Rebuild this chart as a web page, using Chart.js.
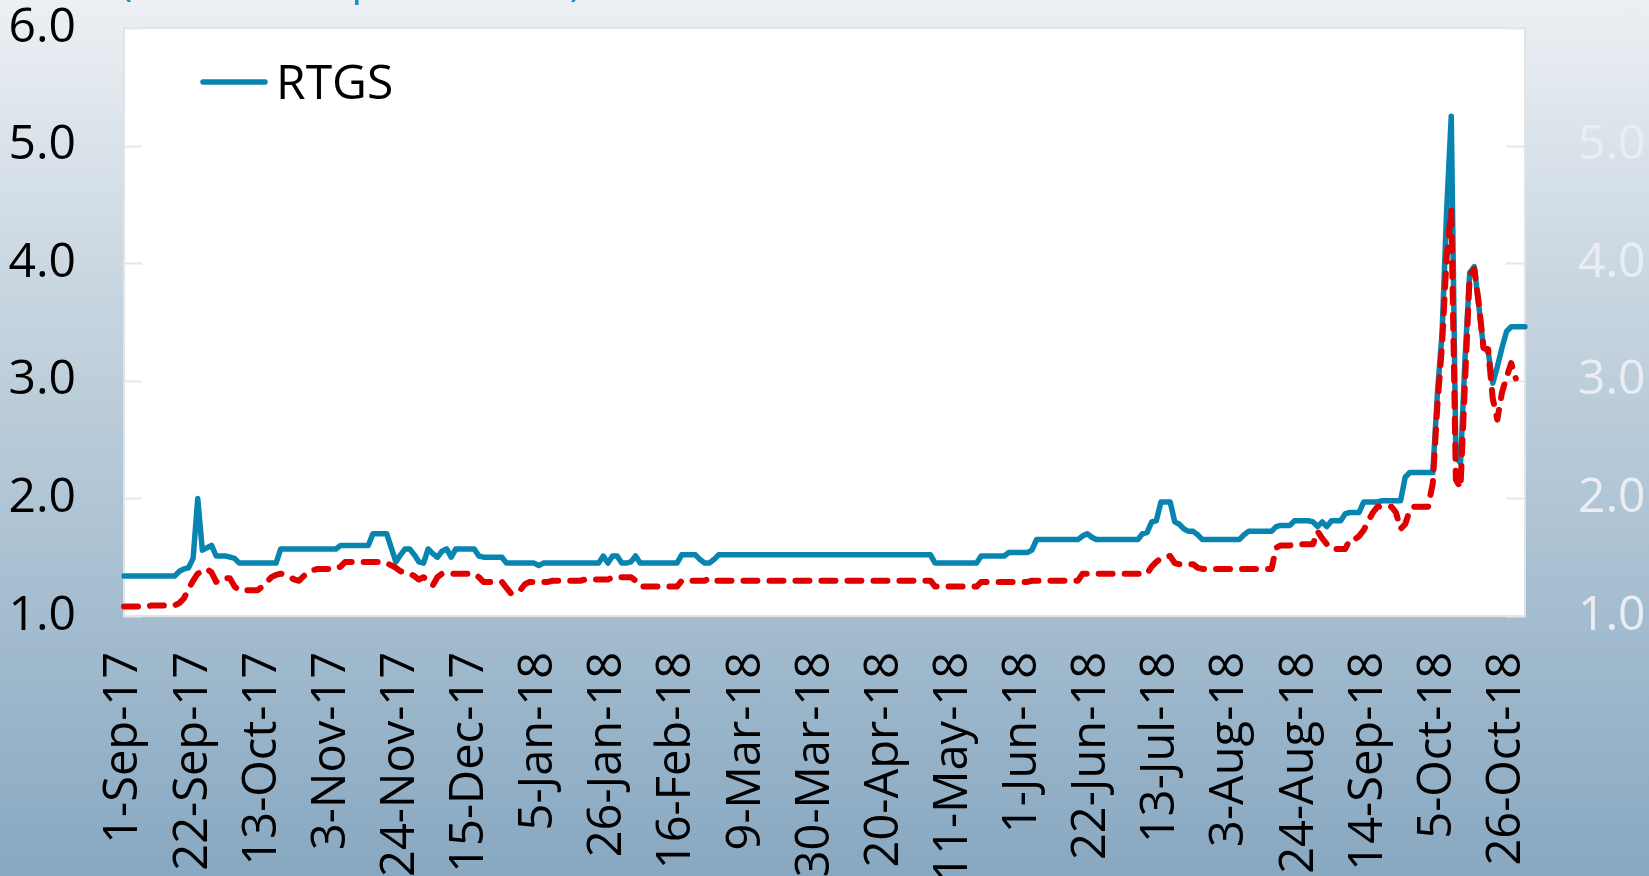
<!DOCTYPE html>
<html>
<head>
<meta charset="utf-8">
<script src="https://cdn.jsdelivr.net/npm/chart.js@4.4.1/dist/chart.umd.min.js"></script>
<style>
html,body{margin:0;padding:0;width:1649px;height:876px;overflow:hidden;
  background:linear-gradient(to bottom,#ecf0f4 0%,#c6d4df 35%,#a6bed0 68%,#88a8c1 100%);}
canvas{display:block;}
</style>
</head>
<body>
<canvas id="c" width="1649" height="876"></canvas>
<script>
// ---------- data ----------
const titleText = '(Call rate in per cent, %)';
const startDate = '2017-09-01';           // first business day shown
const tickEvery = 15;                     // one label every 3 weeks of business days
const tickLabels = ['1-Sep-17','22-Sep-17','13-Oct-17','3-Nov-17','24-Nov-17','15-Dec-17',
  '5-Jan-18','26-Jan-18','16-Feb-18','9-Mar-18','30-Mar-18','20-Apr-18','11-May-18',
  '1-Jun-18','22-Jun-18','13-Jul-18','3-Aug-18','24-Aug-18','14-Sep-18','5-Oct-18','26-Oct-18'];
const yTicks = [1, 2, 3, 4, 5, 6];

const rtgs = [
  1.34,1.34,1.34,1.34,1.34,1.34,1.34,1.34,1.34,1.34,
  1.34,1.34,1.38,1.40,1.41,1.49,2.00,1.56,1.58,1.60,
  1.51,1.51,1.51,1.50,1.49,1.45,1.45,1.45,1.45,1.45,
  1.45,1.45,1.45,1.45,1.57,1.57,1.57,1.57,1.57,1.57,
  1.57,1.57,1.57,1.57,1.57,1.57,1.57,1.60,1.60,1.60,
  1.60,1.60,1.60,1.60,1.70,1.70,1.70,1.70,1.58,1.46,
  1.52,1.57,1.57,1.52,1.46,1.45,1.57,1.53,1.50,1.55,
  1.57,1.50,1.57,1.57,1.57,1.57,1.57,1.51,1.50,1.50,
  1.50,1.50,1.50,1.45,1.45,1.45,1.45,1.45,1.45,1.45,
  1.43,1.45,1.45,1.45,1.45,1.45,1.45,1.45,1.45,1.45,
  1.45,1.45,1.45,1.45,1.51,1.45,1.51,1.51,1.45,1.45,
  1.46,1.51,1.45,1.45,1.45,1.45,1.45,1.45,1.45,1.45,
  1.45,1.52,1.52,1.52,1.52,1.48,1.45,1.45,1.48,1.52,
  1.52,1.52,1.52,1.52,1.52,1.52,1.52,1.52,1.52,1.52,
  1.52,1.52,1.52,1.52,1.52,1.52,1.52,1.52,1.52,1.52,
  1.52,1.52,1.52,1.52,1.52,1.52,1.52,1.52,1.52,1.52,
  1.52,1.52,1.52,1.52,1.52,1.52,1.52,1.52,1.52,1.52,
  1.52,1.52,1.52,1.52,1.52,1.52,1.45,1.45,1.45,1.45,
  1.45,1.45,1.45,1.45,1.45,1.45,1.51,1.51,1.51,1.51,
  1.51,1.51,1.54,1.54,1.54,1.54,1.54,1.56,1.65,1.65,
  1.65,1.65,1.65,1.65,1.65,1.65,1.65,1.65,1.68,1.70,
  1.67,1.65,1.65,1.65,1.65,1.65,1.65,1.65,1.65,1.65,
  1.65,1.70,1.71,1.80,1.81,1.97,1.97,1.97,1.80,1.78,
  1.74,1.72,1.72,1.69,1.65,1.65,1.65,1.65,1.65,1.65,
  1.65,1.65,1.65,1.69,1.72,1.72,1.72,1.72,1.72,1.72,
  1.76,1.77,1.77,1.77,1.81,1.81,1.81,1.81,1.80,1.76,
  1.80,1.76,1.81,1.81,1.81,1.87,1.88,1.88,1.88,1.97,
  1.97,1.97,1.97,1.98,1.98,1.98,1.98,1.98,2.18,2.22,
  2.22,2.22,2.22,2.22,2.22,2.90,3.40,4.45,5.25,2.35,
  2.30,3.20,3.92,3.97,3.63,3.28,3.25,2.98,3.12,3.28,
  3.42,3.46,3.46,3.46,3.46
];

const secondRate = [
  1.08,1.08,1.08,1.08,1.08,1.08,1.09,1.09,1.09,1.09,
  1.09,1.09,1.11,1.15,1.23,1.30,1.36,1.38,1.40,1.37,
  1.29,1.32,1.32,1.32,1.25,1.22,1.22,1.22,1.22,1.22,
  1.25,1.29,1.33,1.35,1.36,1.35,1.33,1.31,1.30,1.34,
  1.37,1.39,1.40,1.40,1.40,1.40,1.40,1.42,1.46,1.46,
  1.46,1.46,1.46,1.46,1.46,1.46,1.46,1.45,1.43,1.41,
  1.38,1.37,1.36,1.34,1.31,1.33,1.29,1.26,1.33,1.36,
  1.36,1.36,1.36,1.36,1.36,1.36,1.36,1.33,1.29,1.29,
  1.29,1.29,1.29,1.24,1.19,1.20,1.22,1.27,1.29,1.29,
  1.29,1.29,1.29,1.30,1.30,1.30,1.30,1.30,1.30,1.30,
  1.31,1.31,1.31,1.31,1.31,1.31,1.33,1.33,1.33,1.33,
  1.33,1.30,1.25,1.25,1.25,1.25,1.25,1.25,1.25,1.25,
  1.25,1.30,1.30,1.30,1.30,1.30,1.30,1.32,1.30,1.30,
  1.30,1.30,1.30,1.30,1.30,1.30,1.30,1.30,1.30,1.30,
  1.30,1.30,1.30,1.30,1.30,1.30,1.30,1.30,1.30,1.30,
  1.30,1.30,1.30,1.30,1.30,1.30,1.30,1.30,1.30,1.30,
  1.30,1.30,1.30,1.30,1.30,1.30,1.30,1.30,1.30,1.30,
  1.30,1.30,1.30,1.30,1.30,1.30,1.25,1.25,1.25,1.25,
  1.25,1.25,1.25,1.25,1.25,1.25,1.29,1.29,1.29,1.29,
  1.29,1.29,1.29,1.29,1.29,1.29,1.29,1.30,1.30,1.30,
  1.30,1.30,1.30,1.30,1.30,1.30,1.30,1.30,1.36,1.36,
  1.36,1.36,1.36,1.36,1.36,1.36,1.36,1.36,1.36,1.36,
  1.36,1.36,1.36,1.42,1.46,1.49,1.50,1.51,1.45,1.44,
  1.44,1.44,1.44,1.41,1.40,1.40,1.40,1.40,1.40,1.40,
  1.40,1.40,1.40,1.40,1.40,1.40,1.40,1.40,1.40,1.40,
  1.58,1.60,1.60,1.60,1.61,1.61,1.61,1.61,1.61,1.72,
  1.66,1.61,1.57,1.57,1.57,1.57,1.65,1.65,1.68,1.73,
  1.81,1.88,1.93,1.93,1.93,1.93,1.88,1.74,1.78,1.90,
  1.93,1.93,1.93,1.93,2.13,2.80,3.30,4.05,4.45,2.16,
  2.09,3.00,3.90,3.95,3.65,3.28,3.27,2.85,2.67,2.90,
  3.03,3.15,3.02,null,null
];

// ---------- categories: business days from startDate ----------
const MONTHS = ['Jan','Feb','Mar','Apr','May','Jun','Jul','Aug','Sep','Oct','Nov','Dec'];
const categories = [];
{
  const d = new Date(startDate + 'T00:00:00Z');
  while (categories.length < rtgs.length) {
    const wd = d.getUTCDay();
    if (wd !== 0 && wd !== 6) {
      categories.push(d.getUTCDate() + '-' + MONTHS[d.getUTCMonth()] + '-' + String(d.getUTCFullYear()).slice(2));
    }
    d.setUTCDate(d.getUTCDate() + 1);
  }
}

const BLUE = '#0784b0';
const RED = '#e00000';

// ---------- decoration plugin ----------
const decor = {
  id: 'decor',
  beforeDraw(chart) {
    const { ctx, chartArea: a } = chart;
    ctx.save();
    ctx.fillStyle = '#ffffff';
    ctx.fillRect(a.left, a.top, a.width, a.height);
    ctx.strokeStyle = '#e1e4e7';
    ctx.lineWidth = 2;
    ctx.strokeRect(a.left, a.top, a.width, a.height);
    // short inside tick marks on both value axes
    const ys = chart.scales.y;
    ctx.strokeStyle = '#e6e6e6';
    ctx.lineWidth = 2;
    ys.ticks.forEach(t => {
      const y = Math.round(ys.getPixelForValue(t.value)) + 0.5;
      ctx.beginPath();
      ctx.moveTo(a.left, y); ctx.lineTo(a.left + 18, y);
      ctx.moveTo(a.right - 19, y); ctx.lineTo(a.right, y);
      ctx.stroke();
    });
    // partially visible title at the very top (mostly cut off by the image edge)
    ctx.fillStyle = '#1a8dc2';
    ctx.font = '42px "Open Sans", sans-serif';
    ctx.textBaseline = 'alphabetic';
    ctx.textAlign = 'left';
    ctx.fillText(titleText, 120, -5);
    ctx.restore();
  },
  afterDatasetsDraw(chart) {
    const { ctx } = chart;
    const ds = chart.data.datasets.find(d => d.showInLegend);
    ctx.save();
    ctx.strokeStyle = ds.borderColor;
    ctx.lineWidth = ds.borderWidth;
    ctx.lineCap = 'round';
    ctx.beginPath();
    ctx.moveTo(203, 82); ctx.lineTo(265, 82);
    ctx.stroke();
    ctx.fillStyle = '#000';
    ctx.font = '48px "Open Sans", sans-serif';
    ctx.textBaseline = 'alphabetic';
    ctx.textAlign = 'left';
    ctx.fillText(ds.label, 276, 99);
    ctx.restore();
  }
};

const yTickFont = { family: '"Open Sans", sans-serif', size: 48 };
const fixV = s => { s.width = 124; s.paddingTop = 0; s.paddingBottom = 0; };

new Chart(document.getElementById('c'), {
  type: 'line',
  data: {
    labels: categories,
    datasets: [
      {
        label: 'Other rate',
        data: secondRate,
        borderColor: RED,
        backgroundColor: RED,
        borderWidth: 6,
        borderDash: [14, 12],
        borderCapStyle: 'round',
        borderJoinStyle: 'round',
        pointRadius: 0,
        tension: 0,
        fill: false,
        order: 1,
        yAxisID: 'y'
      },
      {
        label: 'RTGS',
        showInLegend: true,
        data: rtgs,
        borderColor: BLUE,
        backgroundColor: BLUE,
        borderWidth: 5.5,
        borderJoinStyle: 'round',
        borderCapStyle: 'round',
        pointRadius: 0,
        tension: 0,
        fill: false,
        order: 2,
        yAxisID: 'y'
      }
    ]
  },
  options: {
    responsive: false,
    animation: false,
    devicePixelRatio: 1,
    layout: { padding: { top: 28, left: 0, right: 0, bottom: 0 } },
    plugins: {
      legend: { display: false },
      tooltip: { enabled: false },
      title: { display: false }
    },
    scales: {
      x: {
        type: 'category',
        offset: false,
        grid: { display: false, drawTicks: false },
        border: { display: false },
        ticks: {
          autoSkip: false,
          minRotation: 90,
          maxRotation: 90,
          padding: 36,
          color: '#000',
          font: { family: '"Open Sans", sans-serif', size: 47 },
          callback: (v, i) => (i % tickEvery === 0 ? tickLabels[i / tickEvery] : null)
        },
        afterFit: s => { s.height = 260; s.paddingLeft = 0; s.paddingRight = 0; s.paddingTop = 0; }
      },
      y: {
        position: 'left',
        min: yTicks[0],
        max: yTicks[yTicks.length - 1],
        grid: { display: false, drawTicks: false },
        border: { display: false },
        ticks: {
          stepSize: 1,
          padding: 48,
          color: '#000',
          font: yTickFont,
          callback: v => Number(v).toFixed(1)
        },
        afterFit: fixV
      },
      y2: {
        position: 'right',
        min: yTicks[0],
        max: yTicks[yTicks.length - 1],
        grid: { display: false, drawTicks: false },
        border: { display: false },
        ticks: {
          stepSize: 1,
          padding: 53,
          color: '#eaeef2',
          font: yTickFont,
          callback: v => Number(v).toFixed(1)
        },
        afterFit: fixV
      }
    }
  },
  plugins: [decor]
});
</script>
</body>
</html>
